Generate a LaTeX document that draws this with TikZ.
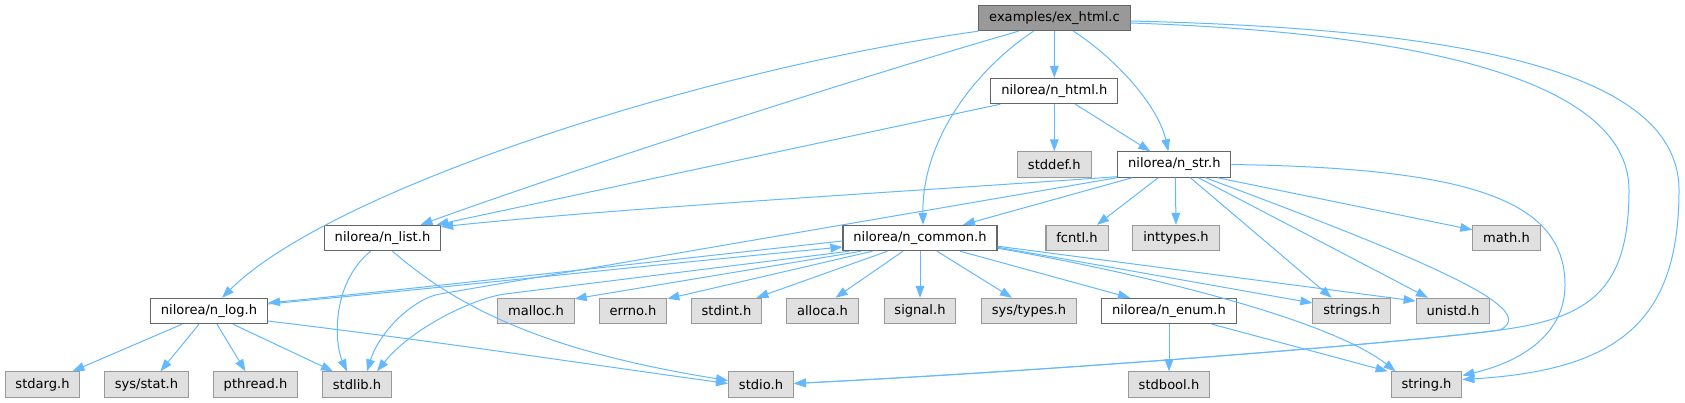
\documentclass[tikz,border=0pt]{standalone}
\usepackage{fontspec}
\usepackage{xcolor}
\usetikzlibrary{calc,arrows.meta,positioning}

\newfontfamily\hdrfont{DejaVu Sans}

\definecolor{edgeblue}{HTML}{63B8FF}
\definecolor{boxline}{HTML}{666666}
\definecolor{sysline}{HTML}{999999}
\definecolor{sysfill}{HTML}{E0E0E0}
\definecolor{rootfill}{HTML}{999999}

\tikzset{
	hbox/.style={rectangle, line width=0.8pt, minimum height=19pt, inner xsep=7.8pt, inner ysep=0pt,
		font=\hdrfont\fontsize{9.8}{11}\selectfont},
	localh/.style={hbox, draw=boxline, fill=white},
	sysh/.style={hbox, draw=sysline, fill=sysfill},
	rooth/.style={hbox, draw=boxline, fill=rootfill},
	dep/.style={draw=edgeblue, line width=0.75pt, -{Triangle[length=9pt,width=6.5pt]}}
}

\begin{document}
\begin{tikzpicture}[x=0.75pt, y=-0.75pt]
			\useasboundingbox (0,0) rectangle (1685,403);
			
			%%files%%
			\node[rooth] (ex) at (1054.5, 18) {examples/ex\_html.c};
			\node[localh] (html) at (1054.3, 91) {nilorea/n\_html.h};
			\node[sysh] (stddef) at (1054.3, 164.5) {stddef.h};
			\node[localh] (str) at (1174.3, 164.5) {nilorea/n\_str.h};
			
			\node[localh] (list) at (382.5, 238) {nilorea/n\_list.h};
			\node[localh] (common) at (920, 238) {nilorea/n\_common.h};
			\node[sysh] (fcntl) at (1077, 238) {fcntl.h};
			\node[sysh] (inttypes) at (1176, 238) {inttypes.h};
			\node[sysh] (math) at (1506.5, 238) {math.h};
			
			\node[localh] (log) at (209, 311) {nilorea/n\_log.h};
			\node[sysh] (malloc) at (536, 311) {malloc.h};
			\node[sysh] (errno) at (633, 311) {errno.h};
			\node[sysh] (stdint) at (726.5, 311) {stdint.h};
			\node[sysh] (alloca) at (822.5, 311) {alloca.h};
			\node[sysh] (signal) at (920, 311) {signal.h};
			\node[sysh] (systypes) at (1029, 311) {sys/types.h};
			\node[localh] (enum) at (1169, 311) {nilorea/n\_enum.h};
			\node[sysh] (strings) at (1351.7, 311) {strings.h};
			\node[sysh] (unistd) at (1453, 311) {unistd.h};
			
			\node[sysh] (stdarg) at (42.5, 384.5) {stdarg.h};
			\node[sysh] (sysstat) at (146.5, 384.5) {sys/stat.h};
			\node[sysh] (pthread) at (255.5, 384.5) {pthread.h};
			\node[sysh] (stdlib) at (357, 384.5) {stdlib.h};
			\node[sysh] (stdio) at (761, 384.5) {stdio.h};
			\node[sysh] (stdbool) at (1169, 384.5) {stdbool.h};
			\node[sysh] (string) at (1426.5, 384.5) {string.h};
			
			%%ex_html.c%%
			\draw[dep] (ex.south west) .. controls (700, 70) and (330, 190) .. ($(log.north)+(13,0)$);
			\draw[dep] ($(ex.south)+(-36,0)$) .. controls (900, 65) and (600, 160) .. ($(list.north)+(38,0)$);
			\draw[dep] ($(ex.south)+(-21,0)$) .. controls (975, 70) and (922, 140) .. ($(common.north)+(3,0)$);
			\draw[dep] (ex.south) -- (html.north);
			\draw[dep] ($(ex.south)+(19,0)$) .. controls (1115, 58) and (1158, 105) .. ($(str.north)+(-6,0)$);
			\draw[dep] ($(ex.east)+(0,3)$) .. controls (1420, 28) and (1679, 60) .. (1679, 190)
				.. controls (1679, 320) and (1620, 370) .. ($(string.east)+(0,-5)$);
			\draw[dep] ($(ex.east)+(0,5)$) .. controls (1400, 32) and (1629, 75) .. (1629, 190)
				.. controls (1629, 290) and (1590, 318) .. (1500, 330)
				.. controls (1430, 340) and (1100, 368) .. ($(stdio.east)+(0,-1)$);
			
			%%n_html.h%%
			\draw[dep] ($(html.south)+(-54,0)$) -- ($(list.north)+(54,0)$);
			\draw[dep] (html.south) -- (stddef.north);
			\draw[dep] ($(html.south)+(21,0)$) -- ($(str.north)+(-24,0)$);
			
			%%n_str.h%%
			\draw[dep] ($(str.south west)+(0,-1)$) .. controls (900, 192) and (620, 208) .. ($(list.north east)+(0,2)$);
			\draw[dep] ($(str.south)+(-42,0)$) -- ($(common.north)+(43,0)$);
			\draw[dep] (str.south west) -- (440, 294) .. controls (415, 298) and (380, 330) .. ($(stdlib.north)+(10,0)$);
			\draw[dep] ($(str.south)+(-16,0)$) -- ($(fcntl.north)+(20,0)$);
			\draw[dep] ($(str.south)+(1,0)$) -- (inttypes.north);
			\draw[dep] ($(str.south)+(16,0)$) -- ($(strings.north)+(-20,0)$);
			\draw[dep] ($(str.south)+(24,0)$) -- ($(unistd.north)+(-25,0)$);
			\draw[dep] ($(str.south)+(43,0)$) -- ($(math.north west)+(0,5)$);
			\draw[dep] ($(str.south)+(31,0)$) .. controls (1440, 265) and (1540, 310) .. (1500, 330)
				.. controls (1430, 340) and (1100, 368) .. ($(stdio.east)+(0,-1)$);
			\draw[dep] (str.east) .. controls (1470, 168) and (1565, 200) .. (1565, 285)
				.. controls (1565, 335) and (1520, 362) .. ($(string.east)+(0,-9)$);
			
			%%n_common.h%%
			\draw[dep] ($(common.west)+(0,3)$) .. controls (650, 262) and (450, 285) .. ($(log.east)+(0,-8)$);
			\draw[dep] ($(log.east)+(0,-7)$) .. controls (450, 287) and (650, 265) .. ($(common.west)+(0,9)$);
			\draw[dep] ($(common.south west)+(7,0)$) -- (505, 294) .. controls (470, 299) and (410, 330) .. ($(stdlib.north)+(20,0)$);
			\draw[dep] ($(common.south west)+(19,0)$) -- ($(malloc.north east)+(0,1)$);
			\draw[dep] ($(common.south west)+(30,0)$) -- ($(errno.north east)+(0,1)$);
			\draw[dep] ($(common.south west)+(45,0)$) -- ($(stdint.north)+(30,0)$);
			\draw[dep] ($(common.south)+(-17,0)$) -- ($(alloca.north)+(13,0)$);
			\draw[dep] (common.south) -- (signal.north);
			\draw[dep] ($(common.south)+(17,0)$) -- ($(systypes.north)+(-17,0)$);
			\draw[dep] ($(common.south)+(40,0)$) -- ($(enum.north)+(-39,0)$);
			\draw[dep] ($(common.south east)+(0,-5)$) -- ($(unistd.west)+(0,-10)$);
			\draw[dep] ($(common.south east)+(0,-4)$) -- ($(strings.west)+(0,-8)$);
			\draw[dep] ($(common.south east)+(0,-3)$) .. controls (1150, 275) and (1330, 320) .. ($(string.north west)+(5,0)$);
			
			%%n_enum.h%%
			\draw[dep] (enum.south) -- (stdbool.north);
			\draw[dep] ($(enum.south)+(43,0)$) -- ($(string.north west)+(-3,0)$);
			
			%%n_list.h%%
			\draw[dep] ($(list.south)+(-12,0)$) .. controls (330, 285) and (335, 345) .. ($(stdlib.north)+(-10,0)$);
			\draw[dep] ($(list.south)+(10,0)$) .. controls (460, 310) and (550, 352) .. ($(stdio.west)+(0,-4)$);
			
			%%n_log.h%%
			\draw[dep] ($(log.south)+(-27,0)$) -- ($(stdarg.north east)+(-8,0)$);
			\draw[dep] ($(log.south)+(-10,0)$) -- ($(sysstat.north)+(14,0)$);
			\draw[dep] ($(log.south)+(8,0)$) -- ($(pthread.north)+(-10,0)$);
			\draw[dep] ($(log.south)+(24,0)$) -- ($(stdlib.north)+(-24,0)$);
			\draw[dep] ($(log.east)+(0,10)$) .. controls (450, 343) and (600, 366) .. ($(stdio.west)+(0,-1)$);
\end{tikzpicture}
\end{document}
